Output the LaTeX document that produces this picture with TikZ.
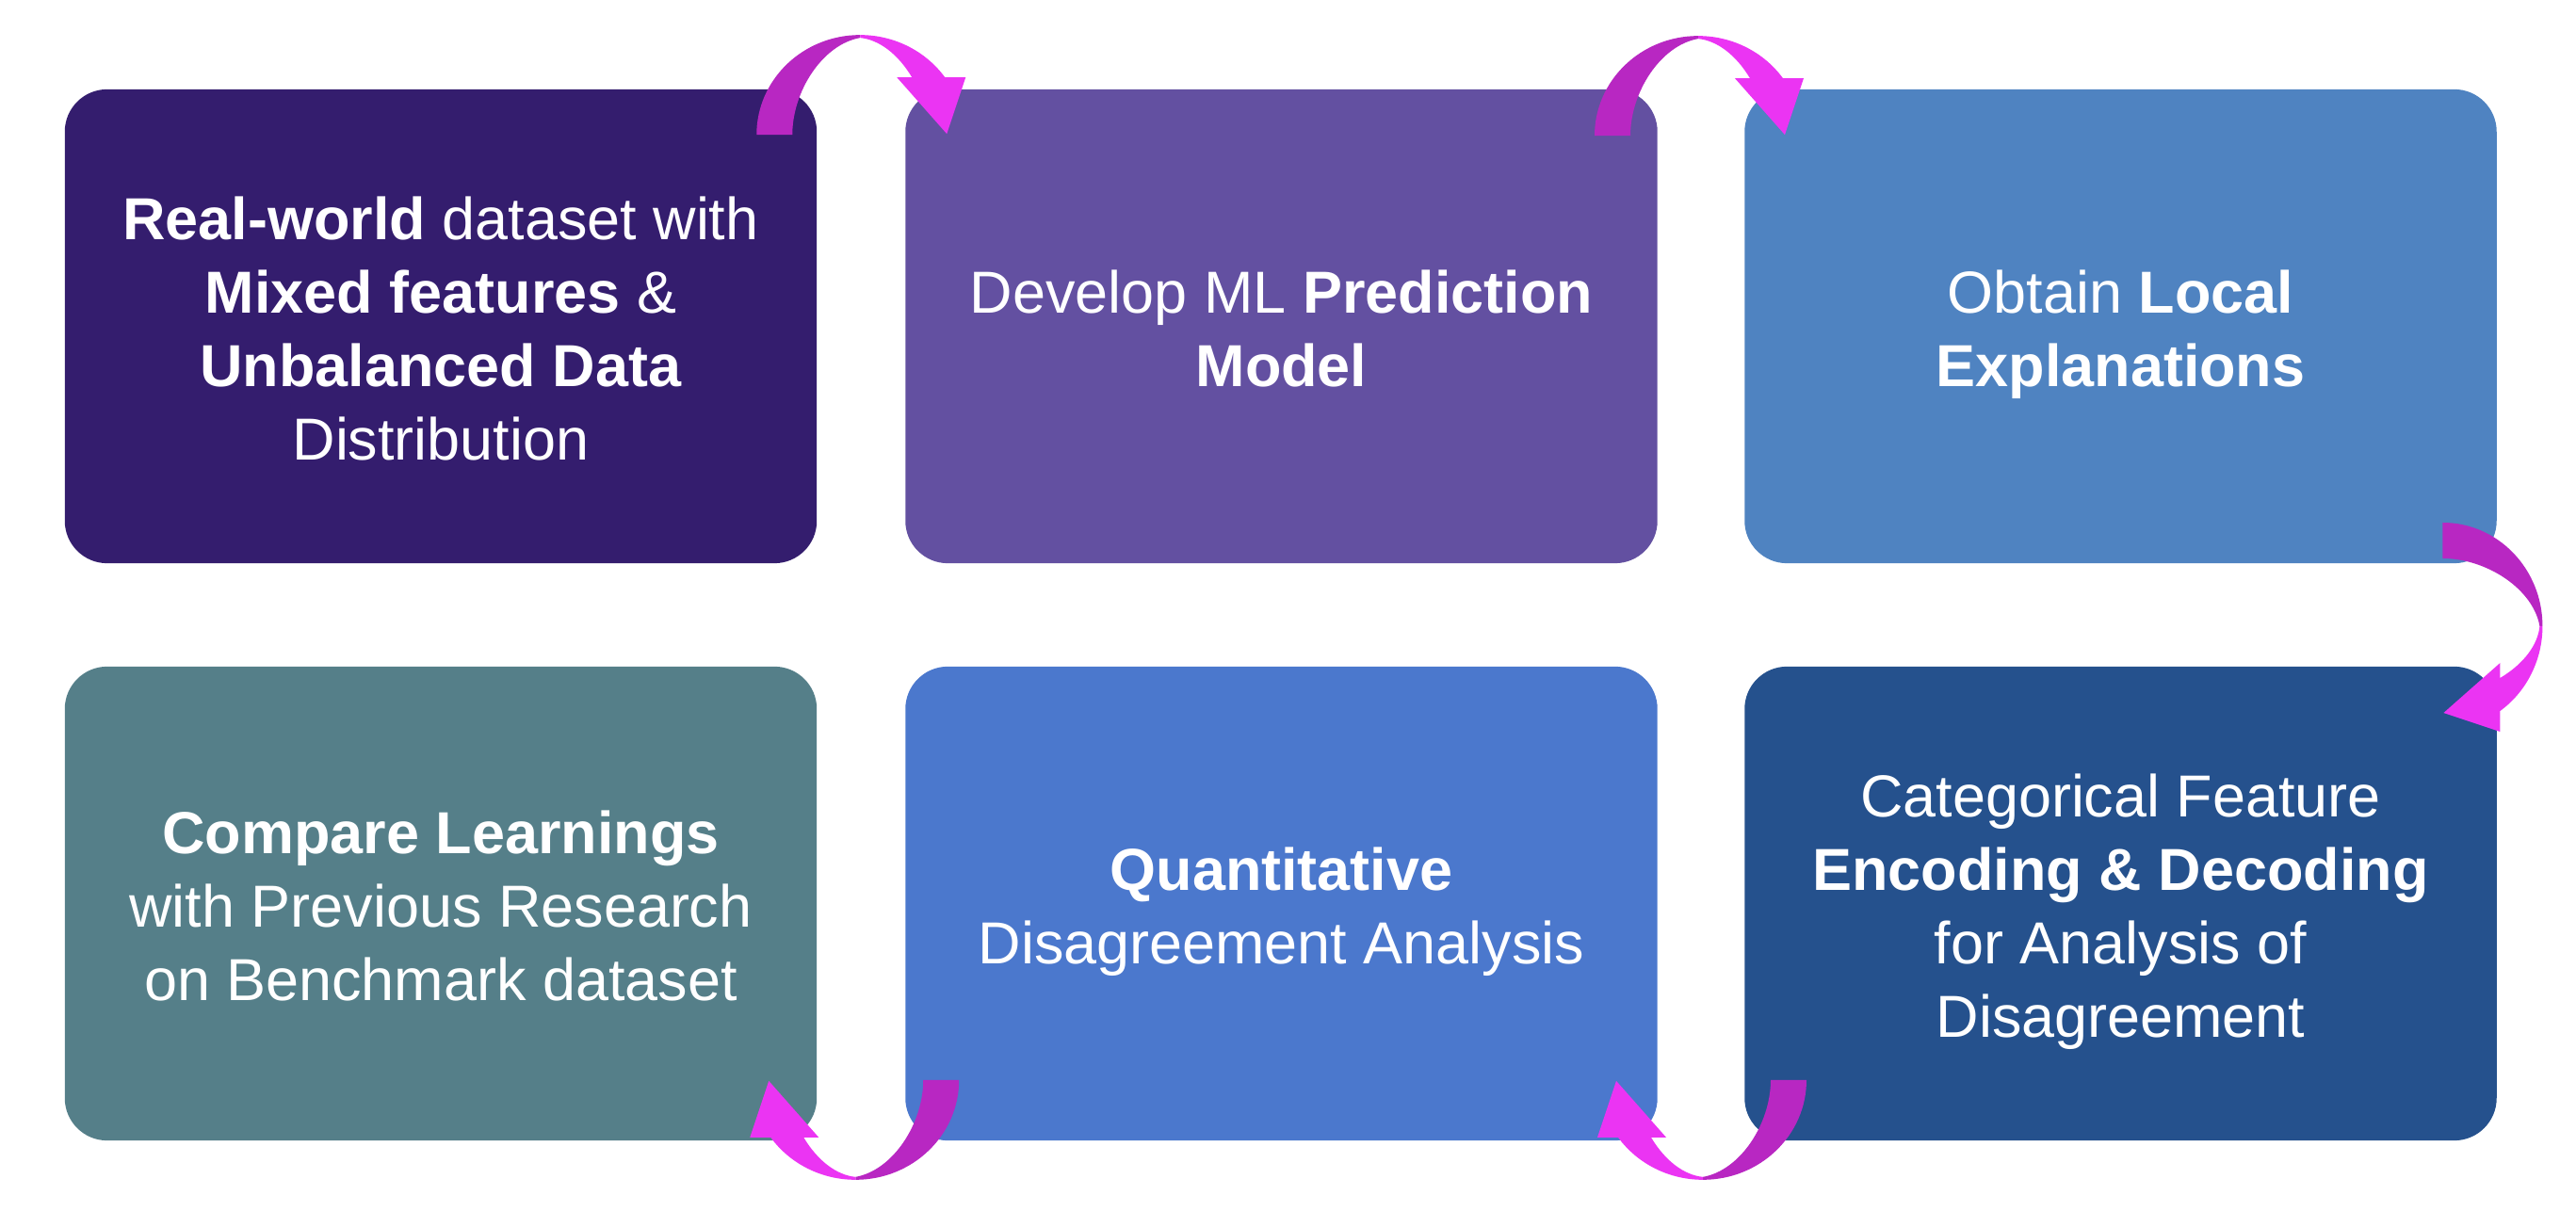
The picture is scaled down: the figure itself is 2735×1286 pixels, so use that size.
\documentclass[tikz,border=0pt]{standalone}
\usepackage{fontspec}
\setmainfont{Liberation Sans}
\usetikzlibrary{calc}
\definecolor{cA}{HTML}{341D6E}
\definecolor{cB}{HTML}{6350A1}
\definecolor{cC}{HTML}{4F83C1}
\definecolor{cD}{HTML}{557F89}
\definecolor{cE}{HTML}{4B78CD}
\definecolor{cF}{HTML}{25518D}
\definecolor{arrdark}{HTML}{B827C2}
\definecolor{arrbright}{HTML}{EB34F3}
\newcommand{\topstrut}{\rule{0pt}{18pt}}
\newcommand{\botstrut}{\rule[-4pt]{0pt}{4pt}}
\tikzset{
  box/.style={rounded corners=0.45cm, minimum width=7.98cm, minimum height=5.03cm,
    inner sep=0pt, text=white, align=center, font=\fontsize{17.9}{22.2}\selectfont},
  arrowhalfA/.style={fill=arrdark},
  arrowhalfB/.style={fill=arrbright},
}
\newcommand{\curvedarrowshape}{%
  \fill[arrowhalfA] (-110,106) .. controls (-110,47.5) and (-60.8,0) .. (0,0)
     -- (0,3) .. controls (-40,10) and (-72,60) .. (-72,106) -- cycle;
  \fill[arrowhalfB] (0,0) .. controls (35.8,0) and (69.4,16.8) .. (90,45)
     -- (112,45) -- (92,105) -- (39,45) -- (55,45)
     .. controls (40,20) and (20,5) .. (0,3) -- cycle;
}
\begin{document}
\begin{tikzpicture}[x=0.01cm, y=-0.01cm]
\useasboundingbox (0,0) rectangle (2735,1286);
\fill[white] (0,0) rectangle (2735,1286);

\node[box, fill=cA] (b1) at (468,346.5) {\topstrut\textbf{Real-world} dataset with\\ \textbf{Mixed features} \&\\ \textbf{Unbalanced Data}\\ Distribution\botstrut};
\node[box, fill=cB] (b2) at (1360.5,346.5) {\topstrut Develop ML \textbf{Prediction}\\ \textbf{Model}\botstrut};
\node[box, fill=cC] (b3) at (2251.5,346.5) {\topstrut Obtain \textbf{Local}\\ \textbf{Explanations}\botstrut};
\node[box, fill=cD] (b4) at (468,959.5) {\topstrut\textbf{Compare Learnings}\\ with Previous Research\\ on Benchmark dataset\botstrut};
\node[box, fill=cE] (b5) at (1360.5,959.5) {\topstrut\textbf{Quantitative}\\ Disagreement Analysis\botstrut};
\node[box, fill=cF] (b6) at (2251.5,959.5) {\topstrut Categorical Feature\\ \textbf{Encoding \& Decoding}\\ for Analysis of\\ Disagreement\botstrut};

\coordinate (a1) at ($(b1.north east)!0.5!(b2.north west)+(-1,-57)$);
\coordinate (a2) at ($(b2.north east)!0.5!(b3.north west)+(-3,-56)$);
\coordinate (a3) at ($(b3.south east)!0.5!(b6.north east)+(48,12)$);
\coordinate (a4) at ($(b6.south west)!0.5!(b5.south east)+(2,41)$);
\coordinate (a5) at ($(b5.south west)!0.5!(b4.south east)+(-6,41)$);

\begin{scope}[shift={(a1)}]\curvedarrowshape\end{scope}
\begin{scope}[shift={(a2)}]\curvedarrowshape\end{scope}
\begin{scope}[shift={(a3)}, rotate=-90]\curvedarrowshape\end{scope}
\begin{scope}[shift={(a4)}, rotate=180]\curvedarrowshape\end{scope}
\begin{scope}[shift={(a5)}, rotate=180]\curvedarrowshape\end{scope}
\end{tikzpicture}
\end{document}
